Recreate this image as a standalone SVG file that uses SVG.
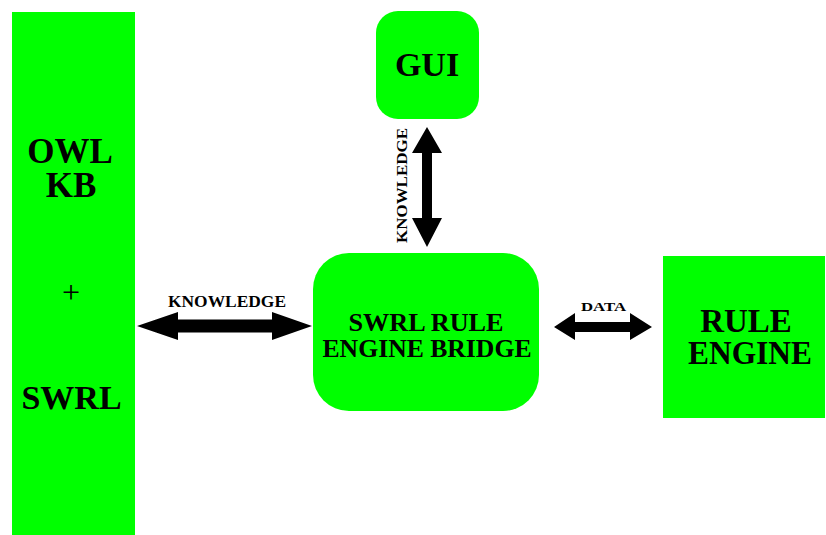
<svg xmlns="http://www.w3.org/2000/svg" width="826" height="535" viewBox="0 0 826 535">
  <style>
    .box { fill: #00ff00; }
    .lbl { font-family: "Liberation Serif", "Times New Roman", serif; font-weight: bold; fill: #000; text-anchor: middle; }
    .arrow { fill: #000; }
  </style>
  <rect width="826" height="535" fill="#fff"/>

  <g id="owl-kb">
    <rect class="box" x="12" y="12" width="123" height="523"/>
    <text class="lbl" x="70" y="163" font-size="35">OWL</text>
    <text class="lbl" x="71" y="197" font-size="35">KB</text>
    <text x="71" y="303" font-size="32" font-family="Liberation Serif, serif" text-anchor="middle">+</text>
    <text class="lbl" x="71.5" y="409" font-size="34">SWRL</text>
  </g>

  <g id="gui">
    <rect class="box" x="376" y="11" width="103" height="108" rx="22"/>
    <text class="lbl" x="427" y="76" font-size="34">GUI</text>
  </g>

  <g id="bridge">
    <rect class="box" x="313" y="253" width="226" height="158" rx="36"/>
    <text class="lbl" x="426" y="331" font-size="26" textLength="155" lengthAdjust="spacingAndGlyphs">SWRL RULE</text>
    <text class="lbl" x="427" y="357" font-size="26" textLength="209" lengthAdjust="spacingAndGlyphs">ENGINE BRIDGE</text>
  </g>

  <g id="rule-engine">
    <rect class="box" x="663" y="256" width="162" height="162"/>
    <text class="lbl" x="746" y="332" font-size="33">RULE</text>
    <text class="lbl" x="750" y="364" font-size="33" textLength="124" lengthAdjust="spacingAndGlyphs">ENGINE</text>
  </g>

  <g id="connectors">
    <!-- KB <-> bridge -->
    <polygon class="arrow" points="137,326 178,312 178,319.5 272,319.5 272,312 312,326 272,340 272,332.5 178,332.5 178,340"/>
    <text class="lbl" x="227" y="307" font-size="17" textLength="118" lengthAdjust="spacingAndGlyphs">KNOWLEDGE</text>
    <!-- GUI <-> bridge -->
    <polygon class="arrow" points="427,127 442,153 432,153 432,218 442,218 427,247 412,218 422,218 422,153 412,153"/>
    <text class="lbl" font-size="15" textLength="115" lengthAdjust="spacingAndGlyphs" transform="translate(407,185.5) rotate(-90)">KNOWLEDGE</text>
    <!-- bridge <-> rule engine -->
    <polygon class="arrow" points="554,327 575,313 575,322 630,322 630,313 652,327 630,340 630,332 575,332 575,340"/>
    <rect x="577" y="299" width="51" height="17.5" fill="#fff"/>
    <text class="lbl" x="603.5" y="311" font-size="13" textLength="45" lengthAdjust="spacingAndGlyphs">DATA</text>
  </g>
</svg>
